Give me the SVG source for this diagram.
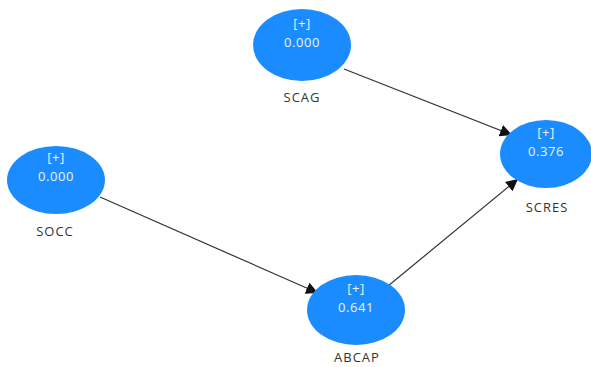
<svg xmlns="http://www.w3.org/2000/svg" width="591" height="367" viewBox="0 0 591 367">
<style>
.n{fill:#1a8cff;}
.v{font-family:"Open Sans","Noto Sans",sans-serif;font-size:13px;letter-spacing:0.6px;fill:#eaf3ff;text-anchor:middle;}
.l{font-family:"Open Sans","Noto Sans",sans-serif;font-size:13px;letter-spacing:1px;fill:#333;text-anchor:middle;}
.e{stroke:#333;stroke-width:1.2;fill:none;marker-end:url(#ah);}
</style>
<defs>
<marker id="ah" viewBox="0 0 10 10" refX="10" refY="5" markerWidth="12" markerHeight="12" markerUnits="userSpaceOnUse" orient="auto">
<path d="M0,0 L10,5 L0,10 z" fill="#111"/>
</marker>
</defs>
<rect width="591" height="367" fill="#fff"/>
<g id="connectors">
<line class="e" x1="344" y1="69" x2="512" y2="135"/>
<line class="e" x1="100" y1="197" x2="318" y2="293"/>
<line class="e" x1="388" y1="286" x2="518" y2="179"/>
</g>
<g id="SCAG">
<ellipse class="n" cx="302" cy="45" rx="49" ry="36"/>
<text class="v" x="302" y="28">[+]</text>
<text class="v" x="302" y="47">0.000</text>
<text class="l" x="302" y="102">SCAG</text>
</g>
<g id="SCRES">
<ellipse class="n" cx="546" cy="154" rx="46" ry="34"/>
<text class="v" x="546" y="137">[+]</text>
<text class="v" x="546" y="156">0.376</text>
<text class="l" x="547" y="212">SCRES</text>
</g>
<g id="SOCC">
<ellipse class="n" cx="56" cy="180" rx="49" ry="34"/>
<text class="v" x="56" y="162">[+]</text>
<text class="v" x="56" y="181">0.000</text>
<text class="l" x="55" y="236">SOCC</text>
</g>
<g id="ABCAP">
<ellipse class="n" cx="356" cy="310" rx="49" ry="35"/>
<text class="v" x="356" y="293">[+]</text>
<text class="v" x="356" y="312">0.641</text>
<text class="l" x="357" y="362">ABCAP</text>
</g>
</svg>
